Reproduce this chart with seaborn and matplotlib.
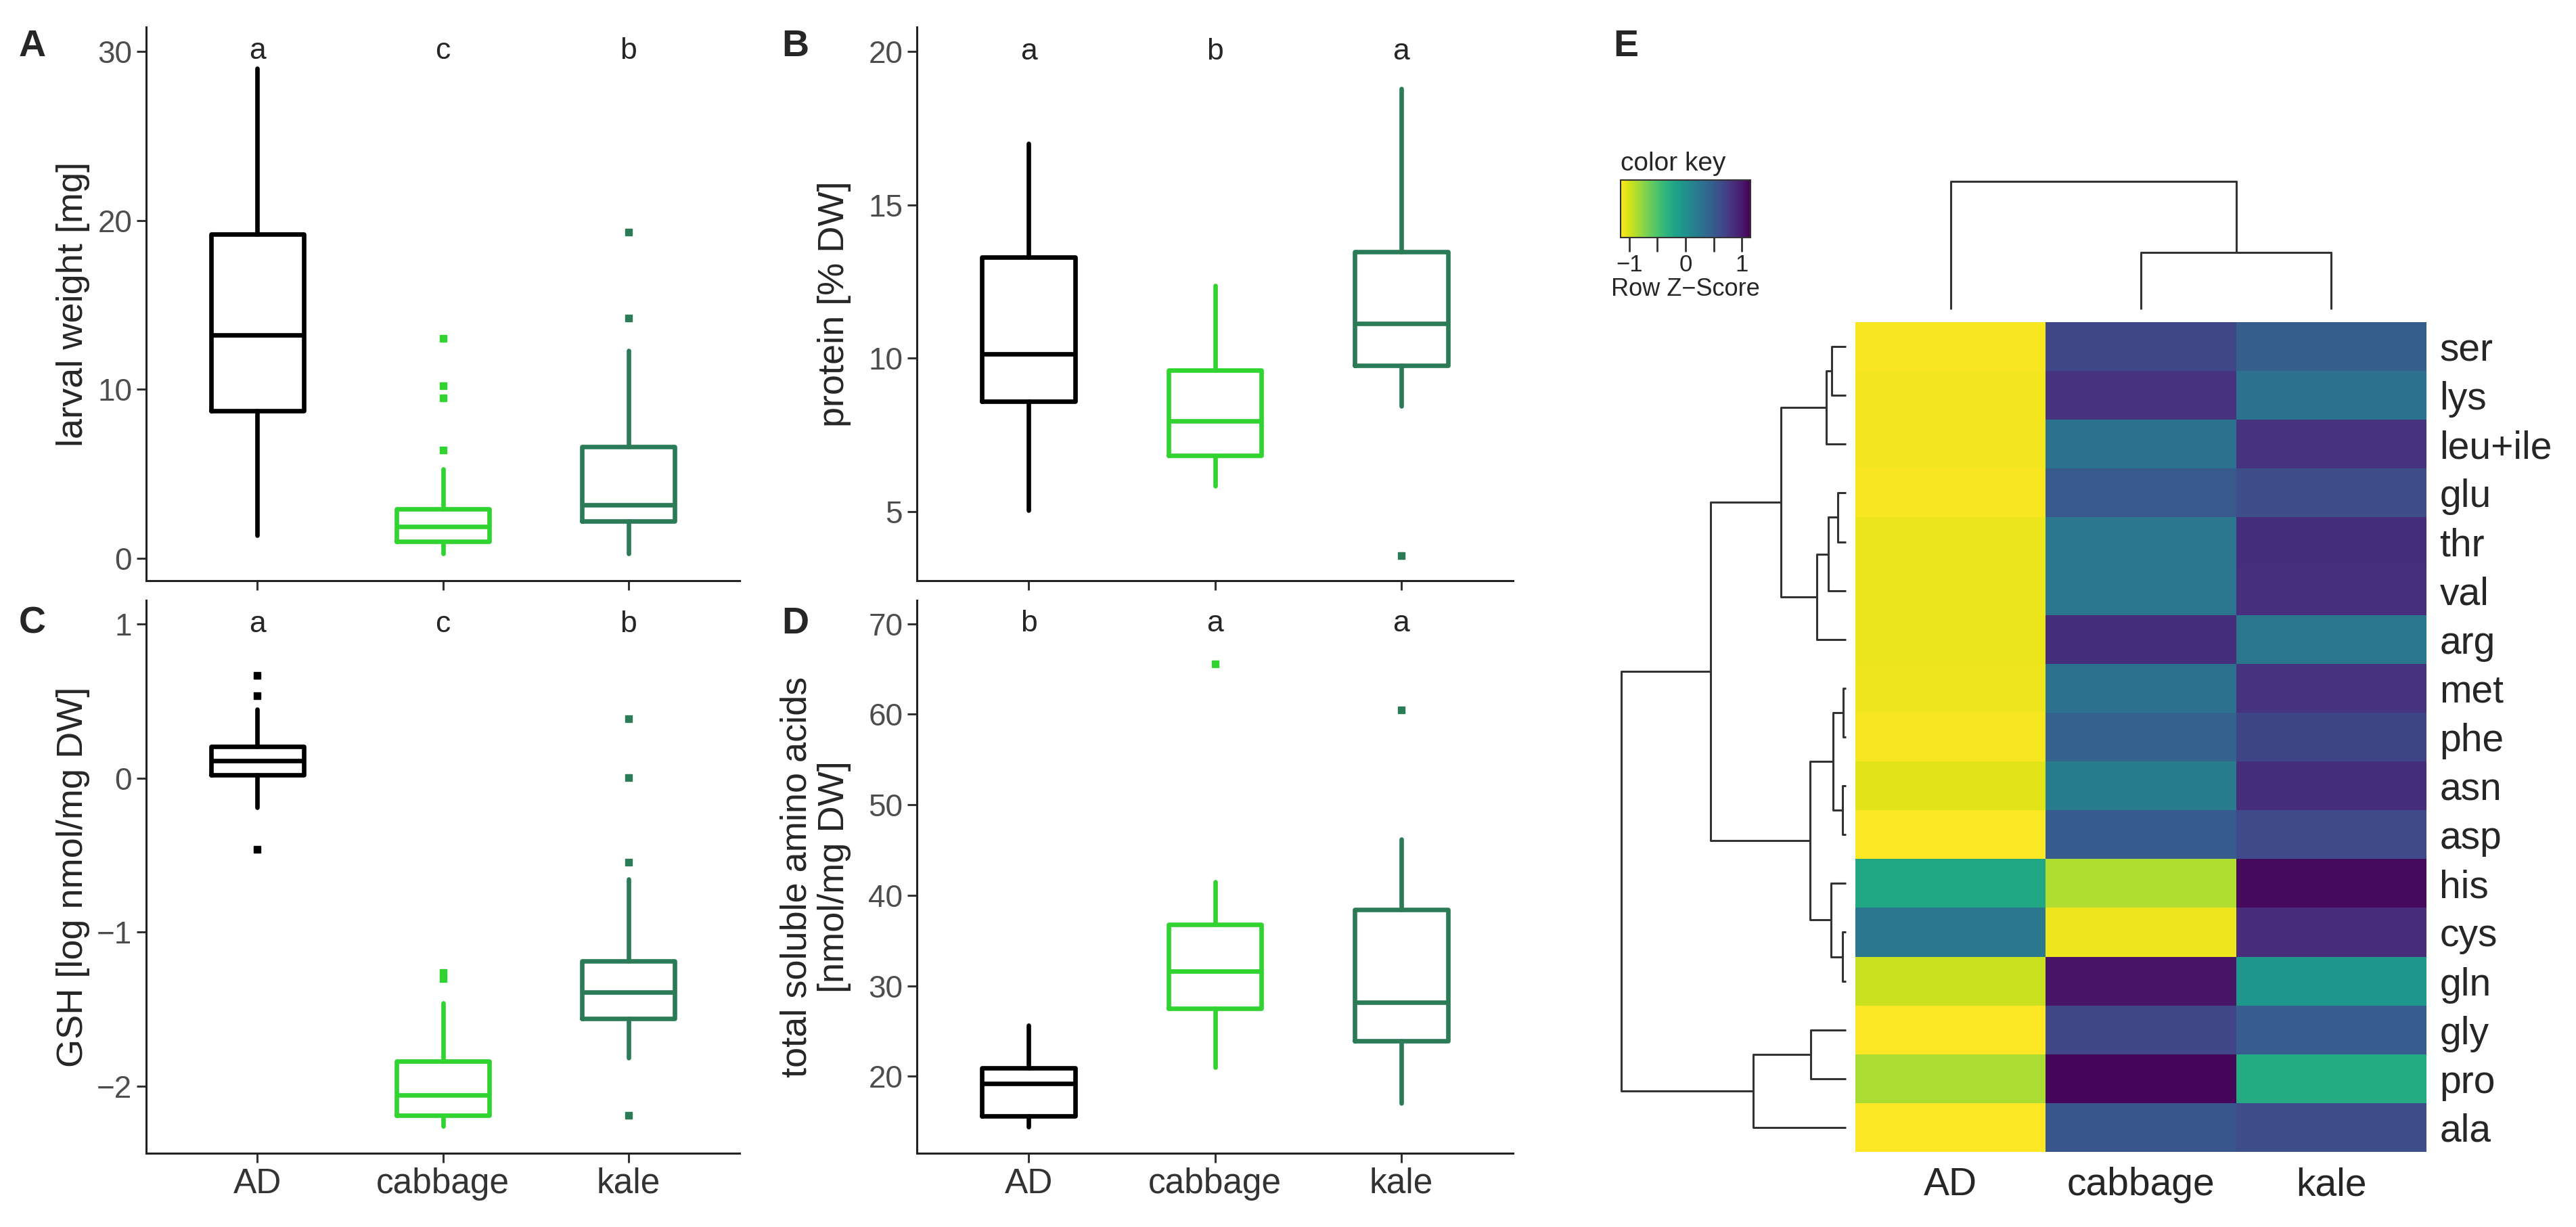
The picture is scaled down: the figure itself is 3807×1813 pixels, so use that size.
import numpy as np
import pandas as pd
import seaborn as sns
import matplotlib.pyplot as plt

# ---------------- data ----------------
groups = ['AD', 'cabbage', 'kale']
group_colors = ['#000000', '#31d331', '#2b7b57']

# A: larval weight [mg]
weight_med = [13.2, 1.89, 3.15]
weight_q1 = [8.74, 1.01, 2.19]
weight_q3 = [19.2, 2.92, 6.6]
weight_lo = [1.36, 0.28, 0.28]
weight_hi = [29.0, 5.27, 12.3]
weight_out = [[], [13.0, 10.2, 9.5, 6.4], [19.3, 14.2]]
weight_letters = ['a', 'c', 'b']

# B: protein [% DW]
protein_med = [10.13, 7.96, 11.13]
protein_q1 = [8.6, 6.83, 9.75]
protein_q3 = [13.3, 9.61, 13.47]
protein_lo = [5.04, 5.84, 8.44]
protein_hi = [17.0, 12.37, 18.8]
protein_out = [[], [], [3.56]]
protein_letters = ['a', 'b', 'a']

# C: GSH [log nmol/mg DW]
gsh_med = [0.116, -2.06, -1.388]
gsh_q1 = [0.022, -2.19, -1.56]
gsh_q3 = [0.205, -1.84, -1.186]
gsh_lo = [-0.19, -2.26, -1.815]
gsh_hi = [0.448, -1.46, -0.654]
gsh_out = [[0.67, 0.535, -0.46], [-1.26, -1.30], [0.386, 0.003, -0.545, -2.19]]
gsh_letters = ['a', 'c', 'b']

# D: total soluble amino acids [nmol/mg DW]
aa_med = [19.22, 31.65, 28.2]
aa_q1 = [15.64, 27.5, 23.9]
aa_q3 = [20.92, 36.8, 38.4]
aa_lo = [14.4, 21.0, 17.0]
aa_hi = [25.6, 41.5, 46.2]
aa_out = [[], [65.6], [60.5]]
aa_letters = ['b', 'a', 'a']

# E: row z-scores (AD, cabbage, kale)
amino_acids = ['ser', 'lys', 'leu+ile', 'glu', 'thr', 'val', 'arg', 'met', 'phe',
               'asn', 'asp', 'his', 'cys', 'gln', 'gly', 'pro', 'ala']
z_ad = [-1.13, -1.11, -1.11, -1.13, -1.09, -1.09, -1.09, -1.10, -1.12,
        -1.05, -1.14, -0.22, 0.24, -0.97, -1.15, -0.86, -1.15]
z_cabbage = [0.66, 0.82, 0.29, 0.52, 0.24, 0.25, 0.85, 0.28, 0.44,
             0.20, 0.50, -0.88, -1.10, 1.03, 0.67, 1.12, 0.54]
z_kale = [0.47, 0.29, 0.82, 0.61, 0.85, 0.84, 0.24, 0.82, 0.68,
          0.85, 0.64, 1.10, 0.86, -0.06, 0.48, -0.26, 0.61]

# dendrograms: [left id, right id, merge height], new ids follow the leaves
row_linkage = [[7, 8, 0.012], [9, 10, 0.015], [12, 13, 0.015], [3, 4, 0.037],
               [17, 18, 0.057], [0, 1, 0.062], [11, 19, 0.065], [20, 5, 0.078],
               [22, 2, 0.088], [24, 6, 0.129], [14, 15, 0.156], [21, 23, 0.161],
               [25, 26, 0.289], [27, 16, 0.414], [29, 28, 0.601], [31, 30, 1.0]]
col_linkage = [[1, 2, 0.444], [0, 3, 1.0]]

# ---------------- figure ----------------
W, H = 3807, 1813
sns.set_style('white')
plt.rcParams['font.family'] = ['Liberation Sans', 'DejaVu Sans']

fig = plt.figure(figsize=(W / 100, H / 100), dpi=100)


def px_box(left, top, right, bottom):
    return [left / W, 1 - bottom / H, (right - left) / W, (bottom - top) / H]


def box_panel(rect, med, q1, q3, lo, hi, out, letters, ylim, yticks, ylabel,
              show_x, label_x):
    ax = fig.add_axes(rect)
    stats = [dict(med=med[i], q1=q1[i], q3=q3[i], whislo=lo[i], whishi=hi[i],
                  fliers=out[i]) for i in range(len(groups))]
    bp = ax.bxp(stats, positions=[1, 2, 3], widths=0.5, showcaps=False)
    for i, c in enumerate(group_colors):
        bp['boxes'][i].set(color=c, linewidth=4.8)
        bp['medians'][i].set(color=c, linewidth=4.8)
        for w in bp['whiskers'][2 * i:2 * i + 2]:
            w.set(color=c, linewidth=4.8)
        bp['fliers'][i].set(marker='s', markersize=6.5, markerfacecolor=c,
                            markeredgecolor=c)
    for i, letter in enumerate(letters):
        ax.text(i + 1, yticks[-1], letter, ha='center', va='center', fontsize=32)
    ax.set_xlim(0.4, 3.6)
    ax.set_ylim(*ylim)
    ax.set_yticks(yticks)
    ax.set_xticks([1, 2, 3])
    if show_x:
        ax.set_xticklabels(groups, fontsize=37, color='#333333')
    else:
        ax.set_xticklabels([])
    ax.tick_params(axis='y', labelsize=33, labelcolor='#4d4d4d')
    ax.tick_params(length=10, width=2.2, color='#333333', pad=5, direction='out',
                   left=True, bottom=True)
    for side in ['top', 'right']:
        ax.spines[side].set_visible(False)
    for side in ['left', 'bottom']:
        ax.spines[side].set(color='#222222', linewidth=2.2)
    ax.set_ylabel(ylabel, fontsize=39, linespacing=1.15)
    ax.yaxis.set_label_coords(label_x, 0.5)
    ax.set_facecolor('white')
    return ax


box_panel(px_box(216, 40, 1093, 858), weight_med, weight_q1, weight_q3, weight_lo,
          weight_hi, weight_out, weight_letters, (-1.32, 31.44), [0, 10, 20, 30],
          'larval weight [mg]', False, -0.095)
box_panel(px_box(1355, 40, 2236, 858), protein_med, protein_q1, protein_q3, protein_lo,
          protein_hi, protein_out, protein_letters, (2.74, 20.8), [5, 10, 15, 20],
          'protein [% DW]', False, -0.11)
box_panel(px_box(216, 887, 1093, 1704), gsh_med, gsh_q1, gsh_q3, gsh_lo,
          gsh_hi, gsh_out, gsh_letters, (-2.436, 1.156), [-2, -1, 0, 1],
          'GSH [log nmol/mg DW]', True, -0.095)
box_panel(px_box(1355, 887, 2236, 1704), aa_med, aa_q1, aa_q3, aa_lo,
          aa_hi, aa_out, aa_letters, (11.5, 72.6), [20, 30, 40, 50, 60, 70],
          'total soluble amino acids\n[nmol/mg DW]', True, -0.11)

# ---------------- heatmap E ----------------
z_df = pd.DataFrame({'AD': z_ad, 'cabbage': z_cabbage, 'kale': z_kale},
                    index=amino_acids)

hm_ax = fig.add_axes(px_box(2742, 476, 3586, 1702))
key_ax = fig.add_axes(px_box(2395, 266, 2587, 351))
sns.heatmap(z_df, ax=hm_ax, cmap='viridis_r', vmin=-1.155, vmax=1.155,
            xticklabels=True, yticklabels=True, cbar_ax=key_ax,
            cbar_kws={'orientation': 'horizontal', 'ticks': [-1, -0.5, 0, 0.5, 1]})
hm_ax.yaxis.tick_right()
hm_ax.set_yticklabels(amino_acids, rotation=0, fontsize=41)
hm_ax.set_xticklabels(groups, rotation=0, fontsize=41)
hm_ax.tick_params(axis='y', length=0, pad=14)
hm_ax.tick_params(axis='x', length=0, pad=16)
hm_ax.set_xlabel('')
hm_ax.set_ylabel('')

cbar = hm_ax.collections[0].colorbar
cbar.outline.set_linewidth(1.5)
cbar.outline.set_edgecolor('#333333')
key_ax.set_xticklabels(['\u22121', '', '0', '', '1'])
key_ax.tick_params(axis='x', length=15, width=2, color='#333333', labelsize=25,
                   pad=2, direction='out')
key_ax.set_xlabel('Row Z\u2212Score', fontsize=26, labelpad=2)
key_ax.set_title('color key', fontsize=28, loc='left', pad=10)


def draw_dendrogram(ax, linkage, n_leaves, orientation):
    pos = {i: i + 0.5 for i in range(n_leaves)}
    hgt = {i: 0.0 for i in range(n_leaves)}
    for k, (a, b, h) in enumerate(linkage):
        a, b = int(a), int(b)
        xs = [pos[a], pos[a], pos[b], pos[b]]
        ys = [hgt[a], h, h, hgt[b]]
        if orientation == 'left':
            ax.plot(ys, xs, color='#333333', linewidth=2.2, clip_on=False,
                    solid_capstyle='butt')
        else:
            ax.plot(xs, ys, color='#333333', linewidth=2.2, clip_on=False,
                    solid_capstyle='butt')
        pos[n_leaves + k] = (pos[a] + pos[b]) / 2
        hgt[n_leaves + k] = h
    ax.axis('off')


row_ax = fig.add_axes(px_box(2396, 476, 2728, 1702))
draw_dendrogram(row_ax, row_linkage, len(amino_acids), 'left')
row_ax.set_xlim(1.0, 0)
row_ax.set_ylim(len(amino_acids), 0)

col_ax = fig.add_axes(px_box(2742, 268, 3586, 457))
draw_dendrogram(col_ax, col_linkage, len(groups), 'top')
col_ax.set_xlim(0, len(groups))
col_ax.set_ylim(0, 1.0)

# panel letters
for letter, (x, y) in {'A': (48, 69), 'B': (1175, 69), 'C': (48, 922),
                       'D': (1175, 922), 'E': (2403, 69)}.items():
    fig.text(x / W, 1 - y / H, letter, ha='center', va='center', fontsize=40,
             fontweight='bold')

fig.savefig('out.png', dpi=100, facecolor='white')
